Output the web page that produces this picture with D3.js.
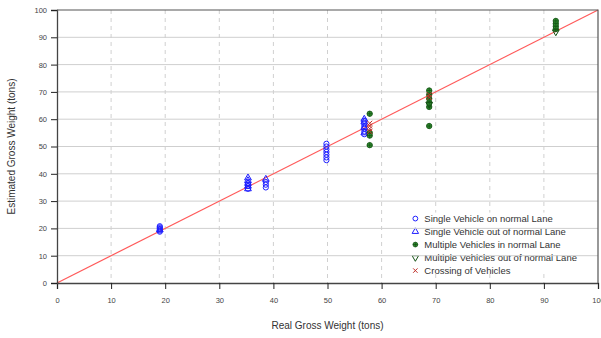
<!DOCTYPE html>
<html>
<head>
<meta charset="utf-8">
<script src="https://cdn.jsdelivr.net/npm/d3@7"></script>
<style>
  body { margin: 0; background: #fff; }
  text { font-family: "Liberation Sans", Arial, sans-serif; }
</style>
</head>
<body>
<div class="chart"></div>
<script>
// chart data
var ticks = [0, 10, 20, 30, 40, 50, 60, 70, 80, 90, 100];

var singleNormalX = [19, 19, 19, 19, 19, 19, 35.3, 35.3, 35.3, 38.6, 38.6, 38.6,
  49.8, 49.8, 49.8, 49.8, 49.8, 49.8, 49.8, 56.8, 56.8, 56.8, 56.8, 56.8, 56.8];
var singleNormalY = [18.8, 19.2, 19.6, 20.0, 20.4, 20.8, 34.5, 35.5, 36.5, 35.0, 36.0, 37.0,
  45.0, 46.0, 47.0, 48.0, 49.0, 50.0, 51.0, 54.5, 55.5, 56.5, 57.5, 58.5, 59.5];

var singleOutX = [19, 35.3, 35.3, 35.3, 35.3, 35.3, 38.6, 56.8, 56.8, 56.8, 56.8];
var singleOutY = [19.5, 34.5, 35.5, 36.5, 37.5, 38.5, 38.0, 55, 57, 59, 60];

var multiNormalX = [57.8, 57.8, 57.8, 57.8, 68.8, 68.8, 68.8, 68.8, 68.8, 68.8, 92.2, 92.2, 92.2, 92.2];
var multiNormalY = [62.0, 55.0, 50.5, 54.0, 57.5, 64.5, 66.0, 67.5, 69.0, 70.5, 93, 94, 95, 96];

var multiOutX = [68.8, 92.2];
var multiOutY = [65.5, 92.0];

var crossingX = [57.8, 57.8, 57.8, 57.8, 68.8, 68.8];
var crossingY = [55.5, 56.5, 57.5, 58.5, 68.0, 69.0];

var legendLabels = ["Single Vehicle on normal Lane", "Single Vehicle out of normal Lane",
  "Multiple Vehicles in normal Lane", "Multiple Vehicles out of normal Lane", "Crossing of Vehicles"];

var svgWidth = 601;
var svgHeight = 338;
var margin = { top: 10, right: 3, bottom: 55, left: 57 };
var width = svgWidth - margin.left - margin.right;
var height = svgHeight - margin.top - margin.bottom;

var blue = "#1f1fff", green = "#2f8f2f", darkGreen = "#145214", red = "#c0302a";

var svg = d3.select(".chart").append("svg")
  .attr("width", svgWidth)
  .attr("height", svgHeight);

var g = svg.append("g")
  .attr("transform", `translate(${margin.left}, ${margin.top})`);

var x = d3.scaleLinear().domain([0, 100]).range([0, width]);
var y = d3.scaleLinear().domain([0, 100]).range([height, 0]);

// vertical dashed grid
g.selectAll(".vgrid").data(ticks.slice(1, -1)).enter().append("line")
  .attr("x1", d => x(d)).attr("x2", d => x(d))
  .attr("y1", 0).attr("y2", height)
  .attr("stroke", "#d0d0d0").attr("stroke-dasharray", "4,4");

// legend background hides the dashed lines
var lg = g.append("g").attr("transform", `translate(${x(65.5)}, ${y(25.8)})`);
lg.append("rect").attr("x", -2).attr("y", 0).attr("width", 192).attr("height", 60).attr("fill", "#fff");

// horizontal grid
g.selectAll(".hgrid").data(ticks.slice(1, -1)).enter().append("line")
  .attr("x1", 0).attr("x2", width)
  .attr("y1", d => y(d)).attr("y2", d => y(d))
  .attr("stroke", "#cfcfcf");

// y = x reference line
g.append("line")
  .attr("x1", x(0)).attr("y1", y(0)).attr("x2", x(100)).attr("y2", y(100))
  .attr("stroke", "#ff5a5a").attr("stroke-width", 1.2);

// axes
var xAxis = g.append("g").attr("transform", `translate(0, ${height})`)
  .call(d3.axisBottom(x).tickValues(ticks).tickSize(6).tickPadding(9));
var yAxis = g.append("g")
  .call(d3.axisLeft(y).tickValues(ticks).tickSize(6).tickPadding(4));
[xAxis, yAxis].forEach(function(a) {
  a.select(".domain").attr("stroke", "#444").attr("stroke-width", 1.3);
  a.selectAll(".tick line").attr("stroke", "#222");
  a.selectAll(".tick text").attr("fill", "#444").style("font-size", "7.5px");
});
// top and right border
g.append("path").attr("d", `M0,0H${width}V${height}`).attr("fill", "none").attr("stroke", "#555").attr("stroke-width", 1.2);

// marker drawers
function circles(xs, ys, col) {
  g.append("g").selectAll("circle").data(xs).enter().append("circle")
    .attr("cx", d => x(d)).attr("cy", (d, i) => y(ys[i])).attr("r", 2.6)
    .attr("fill", "none").attr("stroke", col).attr("stroke-width", 1);
}
function symbols(xs, ys, type, col, rot) {
  g.append("g").selectAll("path").data(xs).enter().append("path")
    .attr("d", d3.symbol().type(type).size(20))
    .attr("transform", (d, i) => `translate(${x(d)}, ${y(ys[i])}) rotate(${rot})`)
    .attr("fill", "none").attr("stroke", col).attr("stroke-width", 1);
}
function plusCircles(xs, ys, col) {
  var pg = g.append("g").selectAll("g").data(xs).enter().append("g")
    .attr("transform", (d, i) => `translate(${x(d)}, ${y(ys[i])})`);
  pg.append("circle").attr("r", 2.7).attr("fill", col).attr("stroke", darkGreen).attr("stroke-width", 0.8);
  pg.append("path").attr("d", "M-2.7,0H2.7M0,-2.7V2.7").attr("stroke", darkGreen).attr("stroke-width", 0.8);
}
function crosses(xs, ys, col) {
  g.append("g").selectAll("path").data(xs).enter().append("path")
    .attr("d", "M-2.5,-2.5L2.5,2.5M-2.5,2.5L2.5,-2.5")
    .attr("transform", (d, i) => `translate(${x(d)}, ${y(ys[i])})`)
    .attr("stroke", col).attr("stroke-width", 1);
}

circles(singleNormalX, singleNormalY, blue);
symbols(singleOutX, singleOutY, d3.symbolTriangle, blue, 0);
plusCircles(multiNormalX, multiNormalY, green);
symbols(multiOutX, multiOutY, d3.symbolTriangle, darkGreen, 180);
crosses(crossingX, crossingY, red);

// legend
var rowH = 13;
var legendItems = lg.selectAll(".item").data(legendLabels).enter().append("g")
  .attr("transform", (d, i) => `translate(0, ${6 + i * rowH})`);
legendItems.append("text")
  .attr("x", 13).attr("y", 3.5)
  .attr("fill", "#333").style("font-size", "9.5px")
  .text(d => d);
var l0 = legendItems.filter((d, i) => i === 0);
l0.append("circle").attr("cx", 4).attr("r", 2.4).attr("fill", "none").attr("stroke", blue);
legendItems.filter((d, i) => i === 1).append("path")
  .attr("d", d3.symbol().type(d3.symbolTriangle).size(18)).attr("transform", "translate(4,0)")
  .attr("fill", "none").attr("stroke", blue);
var l2 = legendItems.filter((d, i) => i === 2);
l2.append("circle").attr("cx", 4).attr("r", 2.4).attr("fill", green).attr("stroke", darkGreen).attr("stroke-width", 0.8);
l2.append("path").attr("d", "M1.6,0H6.4M4,-2.4V2.4").attr("stroke", darkGreen).attr("stroke-width", 0.8);
legendItems.filter((d, i) => i === 3).append("path")
  .attr("d", d3.symbol().type(d3.symbolTriangle).size(18)).attr("transform", "translate(4,0) rotate(180)")
  .attr("fill", "none").attr("stroke", darkGreen);
legendItems.filter((d, i) => i === 4).append("path")
  .attr("d", "M1.8,-2.2L6.2,2.2M1.8,2.2L6.2,-2.2").attr("stroke", red);

// axis titles
svg.append("text")
  .attr("x", margin.left + width / 2).attr("y", 329)
  .attr("text-anchor", "middle").attr("fill", "#333").style("font-size", "10px")
  .text("Real Gross Weight (tons)");
svg.append("text")
  .attr("transform", `translate(15, ${margin.top + height / 2}) rotate(-90)`)
  .attr("text-anchor", "middle").attr("fill", "#333").style("font-size", "10px")
  .text("Estimated Gross Weight (tons)");
</script>
</body>
</html>
